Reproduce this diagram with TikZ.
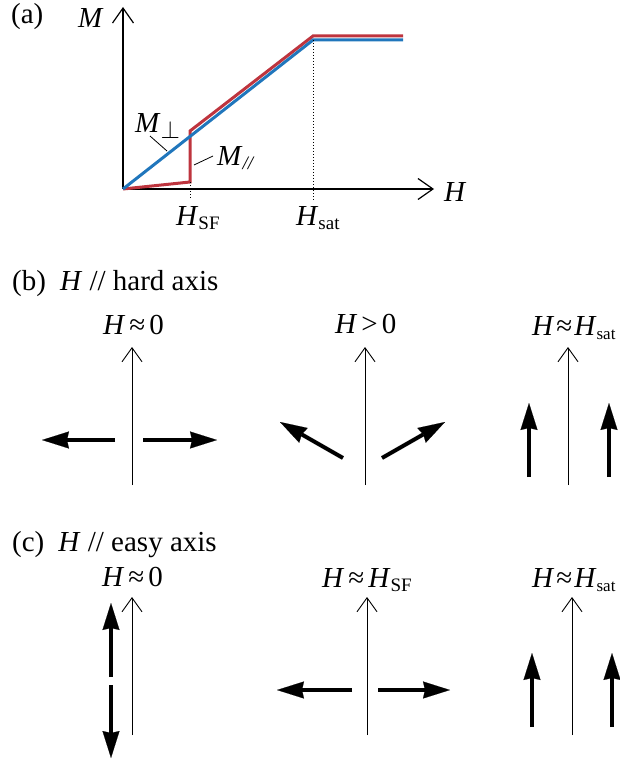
\documentclass[tikz,border=0pt]{standalone}
\usepackage{fontspec}
\setmainfont{Liberation Serif}
\usetikzlibrary{arrows.meta}
\definecolor{cred}{RGB}{190,52,62}
\definecolor{cblue}{RGB}{32,118,188}
\newcommand{\lsub}[1]{\raisebox{-0.35ex}{\fontsize{19}{19}\selectfont #1}}
\newcommand{\lsubs}[1]{\raisebox{-0.35ex}{\fontsize{17}{17}\selectfont #1}}
\newcommand{\apx}{\hspace{4pt}≈\hspace{4pt}}
\newcommand{\apxs}{\hspace{2pt}≈\hspace{2pt}}
\begin{document}
\begin{tikzpicture}[x=1pt,y=-1pt,
  lbl/.style={inner sep=0pt,anchor=base west,font=\fontsize{29}{34}\selectfont},
  axisA/.style={line width=1.2pt,-{Straight Barb[length=15pt,width=21pt,line width=1.2pt]}},
  fieldax/.style={line width=0.9pt,-{Straight Barb[length=14pt,width=20pt,line width=0.9pt]}},
  spin/.style={line width=4pt,-{Stealth[length=27pt,width=17pt,inset=2pt,line width=0.1pt]}},
  curve/.style={line width=3pt,line join=miter},
  guide/.style={dotted,line width=1pt},
  leader/.style={line width=0.8pt}]
\useasboundingbox (0,0) rectangle (619,762);

% ---------- panel (a) ----------
\node[lbl] (la) at (11,24) {(a)};
\coordinate (O) at (123,189);
\coordinate (ytip) at (123,7);
\coordinate (xtip) at (434,189);
\draw[axisA] (O) -- (ytip);
\draw[axisA] (O) -- (xtip);
\node[lbl] (lM) at (78,28) {\textit{M}};
\node[lbl] (lH) at (444,201) {\textit{H}};

\coordinate (rA) at (190,182);
\coordinate (rB) at (190,131);
\coordinate (rC) at (313,36);
\coordinate (rD) at (403,36);
\coordinate (bC) at (313,40);
\coordinate (bD) at (403,40);
\draw[curve,cred] (O) -- (rA) -- (rB) -- (rC) -- (rD);
\draw[curve,cblue] (O) -- (bC) -- (bD);

\coordinate (sfB) at (190,199);
\coordinate (satB) at (313,200);
\draw[guide] (rA) -- (sfB);
\draw[guide] (bC) -- (satB);
\node[lbl] (lHsf) at (176,225) {\textit{H}\lsub{SF}};
\node[lbl] (lHsat) at (296,225) {\textit{H}\lsub{sat}};

\node[lbl] (lMperp) at (135,133) {\textit{M}\raisebox{-0.4ex}{$\perp$}};
\node[lbl] (lMpar) at (217,165) {\textit{M}\lsub{\textit{//}}};
\coordinate (p1) at (150,136);
\coordinate (p2) at (167,151);
\coordinate (q1) at (194,165);
\coordinate (q2) at (213,156);
\draw[leader] (p1) -- (p2);
\draw[leader] (q1) -- (q2);

% ---------- panel (b) ----------
\node[lbl] (lb) at (12,290) {(b)\hspace{14pt}\textit{H} // hard axis};

\coordinate (b1s) at (132,485); \coordinate (b1t) at (132,347);
\coordinate (b2s) at (365,485); \coordinate (b2t) at (365,347);
\coordinate (b3s) at (568,485); \coordinate (b3t) at (568,347);
\draw[fieldax] (b1s) -- (b1t);
\draw[fieldax] (b2s) -- (b2t);
\draw[fieldax] (b3s) -- (b3t);
\node[lbl] (lb1) at (103,334) {\textit{H}\apx 0};
\node[lbl] (lb2) at (335,333) {\textit{H}\hspace{4pt}>\hspace{4pt}0};
\node[lbl] (lb3) at (532,335) {\textit{H}\apxs\textit{H}\lsubs{sat}};

\coordinate (s1a) at (115,440); \coordinate (s1b) at (42,440);
\coordinate (s2a) at (143,440); \coordinate (s2b) at (217,440);
\draw[spin] (s1a) -- (s1b);
\draw[spin] (s2a) -- (s2b);
\coordinate (s3a) at (343,458); \coordinate (s3b) at (280,422);
\coordinate (s4a) at (382,458); \coordinate (s4b) at (445,422);
\draw[spin] (s3a) -- (s3b);
\draw[spin] (s4a) -- (s4b);
\coordinate (s5a) at (529,477); \coordinate (s5b) at (529,403);
\coordinate (s6a) at (609,477); \coordinate (s6b) at (609,403);
\draw[spin] (s5a) -- (s5b);
\draw[spin] (s6a) -- (s6b);

% ---------- panel (c) ----------
\node[lbl] (lc) at (12,551) {(c)\hspace{14pt}\textit{H} // easy axis};

\coordinate (c1s) at (132,735); \coordinate (c1t) at (132,597);
\coordinate (c2s) at (367,735); \coordinate (c2t) at (367,597);
\coordinate (c3s) at (572,735); \coordinate (c3t) at (572,597);
\draw[fieldax] (c1s) -- (c1t);
\draw[fieldax] (c2s) -- (c2t);
\draw[fieldax] (c3s) -- (c3t);
\node[lbl] (lc1) at (102,586) {\textit{H}\apx 0};
\node[lbl] (lc2) at (322,587) {\textit{H}\apx\textit{H}\lsub{SF}};
\node[lbl] (lc3) at (532,587) {\textit{H}\apxs\textit{H}\lsubs{sat}};

\coordinate (t1a) at (111,677); \coordinate (t1b) at (111,603);
\coordinate (t2a) at (111,685); \coordinate (t2b) at (111,758);
\draw[spin] (t1a) -- (t1b);
\draw[spin] (t2a) -- (t2b);
\coordinate (t3a) at (352,690); \coordinate (t3b) at (277,690);
\coordinate (t4a) at (378,690); \coordinate (t4b) at (450,690);
\draw[spin] (t3a) -- (t3b);
\draw[spin] (t4a) -- (t4b);
\coordinate (t5a) at (532,727); \coordinate (t5b) at (532,653);
\coordinate (t6a) at (612,727); \coordinate (t6b) at (612,653);
\draw[spin] (t5a) -- (t5b);
\draw[spin] (t6a) -- (t6b);
\end{tikzpicture}
\end{document}
